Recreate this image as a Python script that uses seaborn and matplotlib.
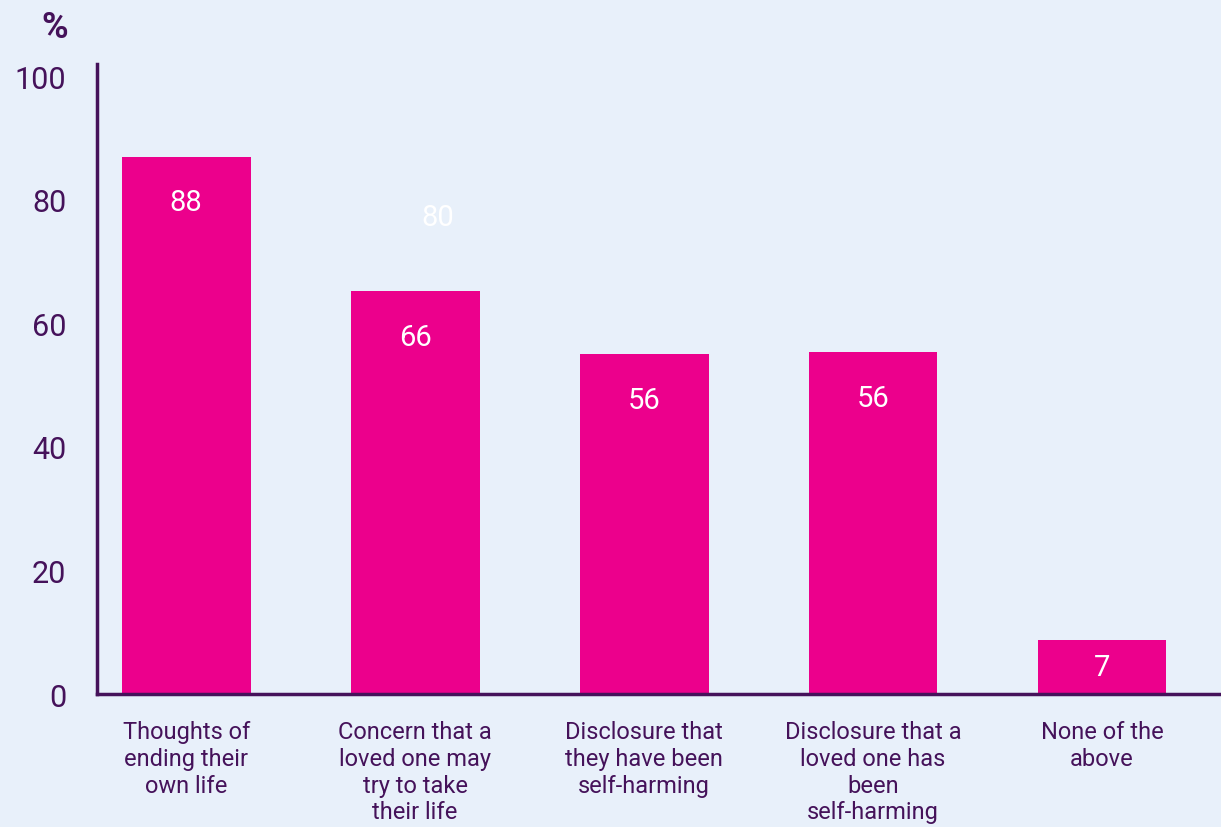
import matplotlib
matplotlib.use("Agg")
import matplotlib.pyplot as plt
import seaborn as sns
import pandas as pd

categories = [
    "Thoughts of\nending their\nown life",
    "Concern that a\nloved one may\ntry to take\ntheir life",
    "Disclosure that\nthey have been\nself-harming",
    "Disclosure that a\nloved one has\nbeen\nself-harming",
    "None of the\nabove",
]
bar_heights = [87, 65.2, 55, 55.4, 8.8]
value_labels = ["88", "66", "56", "56", "7"]
yticks = [0, 20, 40, 60, 80, 100]

BG = "#e8f0fa"
PINK = "#ec008c"
PURPLE = "#45125a"

sns.set_theme(style="white")
plt.rcParams["font.family"] = ["Roboto", "DejaVu Sans"]

fig = plt.figure(figsize=(12.21, 8.28), dpi=100, facecolor=BG)
ax = fig.add_axes([0.0794, 0.1606, 0.9206, 0.761])
ax.set_facecolor(BG)

df = pd.DataFrame({"cat": categories, "val": bar_heights})
sns.barplot(data=df, x="cat", y="val", color=PINK, saturation=1, width=0.563,
            linewidth=0, edgecolor=PINK, ax=ax)

ax.set_xlim(-0.39, 4.52)
ax.set_ylim(0, 102)
ax.set_yticks(yticks)
ax.set_yticklabels([str(t) for t in yticks], fontsize=22, color=PURPLE)
ax.tick_params(axis="y", length=0, pad=22)
ax.tick_params(axis="x", length=0, pad=19)
for lab in ax.get_xticklabels():
    lab.set_fontsize(17)
    lab.set_color(PURPLE)
    lab.set_linespacing(1.2)
    lab.set_verticalalignment("top")
ax.set_xlabel("")
ax.set_ylabel("")

for s in ["top", "right"]:
    ax.spines[s].set_visible(False)
for s in ["left", "bottom"]:
    ax.spines[s].set_color(PURPLE)
    ax.spines[s].set_linewidth(2.5)

for i, (h, lab) in enumerate(zip(bar_heights, value_labels)):
    if h > 20:
        ax.annotate(lab, (i, h), xytext=(0, -33), textcoords="offset points",
                    ha="center", va="center", color="white", fontsize=21)
    else:
        ax.annotate(lab, (i, h / 2), ha="center", va="center", color="white", fontsize=21)

# stray label present in the reference
ax.text(1.1, 77.2, "80", ha="center", va="center", color="white", fontsize=21)

fig.text(0.045, 0.966, "%", ha="center", va="center", color=PURPLE,
         fontsize=26, fontweight="bold")

fig.savefig("out.png", dpi=100, facecolor=BG)
